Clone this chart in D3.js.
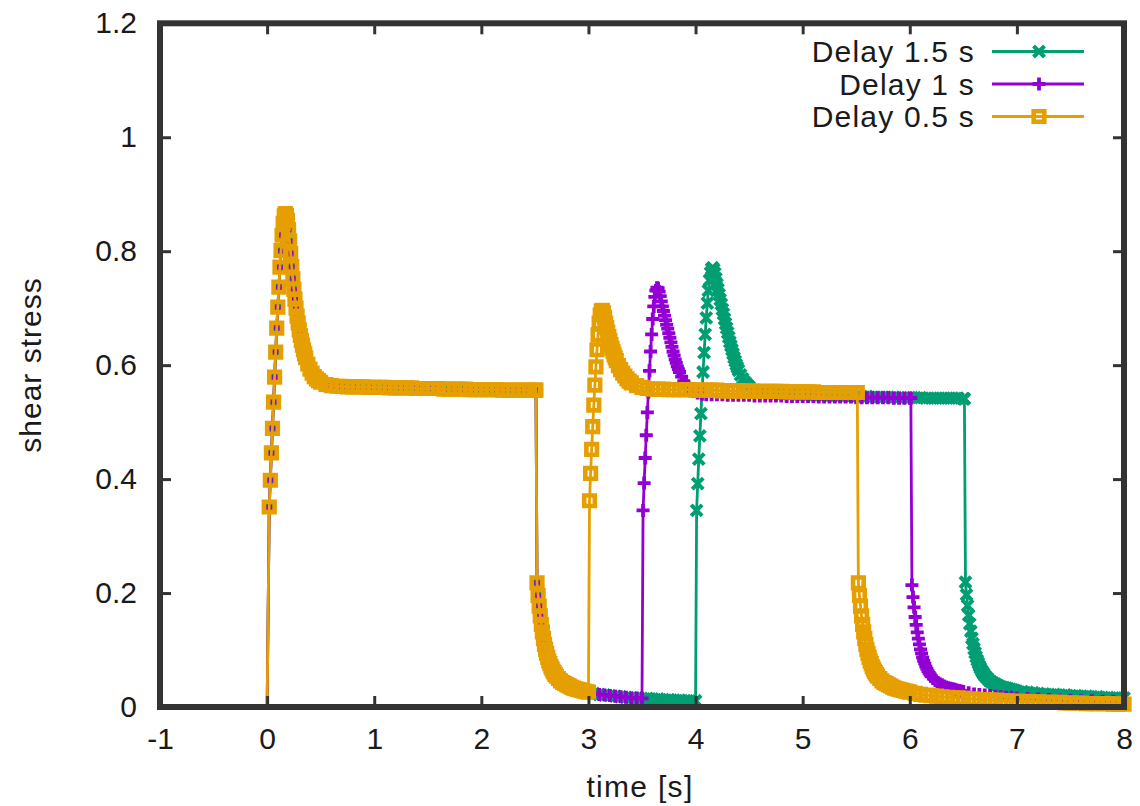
<!DOCTYPE html>
<html>
<head>
<meta charset="utf-8">
<script src="https://cdn.jsdelivr.net/npm/d3@7/dist/d3.min.js"></script>
<style>
  html, body { margin: 0; padding: 0; background: #ffffff; }
  svg text { font-family: "Liberation Sans", Arial, sans-serif; fill: #1a1a1a; }
</style>
</head>
<body>
<svg id="chart" width="1140" height="806"></svg>
<script>
// Axis ticks
const xTicks = [-1, 0, 1, 2, 3, 4, 5, 6, 7, 8];
const yTicks = [0, 0.2, 0.4, 0.6, 0.8, 1, 1.2];

// Series labels and colours (legend order)
const seriesNames = ["Delay 1.5 s", "Delay 1 s", "Delay 0.5 s"];
const seriesColors = ["#009e73", "#9400d3", "#e69f00"];
const seriesMarkers = ["cross", "plus", "square"];

// First loading cycle, common to all runs: [time s, shear stress]
const firstCycle = [
  [0.00, 0.000], [0.02, 0.351], [0.03, 0.398], [0.04, 0.446], [0.05, 0.489],
  [0.06, 0.535], [0.07, 0.579], [0.08, 0.623], [0.09, 0.665], [0.10, 0.702],
  [0.11, 0.737], [0.12, 0.772], [0.13, 0.801], [0.14, 0.828], [0.15, 0.849],
  [0.16, 0.862], [0.17, 0.866], [0.18, 0.863], [0.19, 0.854], [0.20, 0.838],
  [0.21, 0.818], [0.22, 0.796], [0.23, 0.773], [0.24, 0.752], [0.25, 0.733],
  [0.26, 0.716], [0.27, 0.700], [0.28, 0.686], [0.29, 0.674], [0.30, 0.662],
  [0.31, 0.652], [0.32, 0.643], [0.33, 0.635], [0.34, 0.627], [0.35, 0.620],
  [0.36, 0.613], [0.38, 0.602], [0.40, 0.593], [0.42, 0.586], [0.44, 0.580],
  [0.46, 0.576], [0.48, 0.573], [0.50, 0.570], [0.55, 0.566], [0.60, 0.564],
  [0.65, 0.563], [0.70, 0.563], [0.75, 0.562], [0.80, 0.562], [0.85, 0.562],
  [0.90, 0.562], [0.95, 0.561], [1.00, 0.561], [1.05, 0.561], [1.10, 0.561],
  [1.15, 0.560], [1.20, 0.560], [1.25, 0.560], [1.30, 0.560], [1.35, 0.560],
  [1.40, 0.559], [1.45, 0.559], [1.50, 0.559], [1.55, 0.559], [1.60, 0.559],
  [1.65, 0.558], [1.70, 0.558], [1.75, 0.558], [1.80, 0.558], [1.85, 0.558],
  [1.90, 0.557], [1.95, 0.557], [2.00, 0.557], [2.05, 0.557], [2.10, 0.557],
  [2.15, 0.557], [2.20, 0.556], [2.25, 0.556], [2.30, 0.556], [2.35, 0.556],
  [2.40, 0.556], [2.45, 0.556], [2.50, 0.556], [2.51, 0.556],
  [2.52, 0.218], [2.53, 0.196], [2.54, 0.177], [2.55, 0.160], [2.56, 0.145],
  [2.57, 0.132], [2.58, 0.120], [2.59, 0.110], [2.60, 0.101], [2.61, 0.094],
  [2.62, 0.087], [2.63, 0.081], [2.64, 0.076], [2.65, 0.071], [2.66, 0.067],
  [2.67, 0.063], [2.68, 0.060], [2.69, 0.057], [2.70, 0.054], [2.72, 0.050],
  [2.74, 0.046], [2.76, 0.043], [2.78, 0.041], [2.80, 0.039], [2.82, 0.037],
  [2.84, 0.035], [2.86, 0.033], [2.88, 0.032], [2.90, 0.031], [2.92, 0.030],
  [2.94, 0.029], [2.96, 0.028], [2.98, 0.027], [3.00, 0.026]
];

// Delay 1.5 s: rest until t = 4 s, second cycle, unloading at 6.5 s
const delay15Rest = [
  [3.05, 0.024], [3.10, 0.022], [3.15, 0.021], [3.20, 0.020], [3.25, 0.019],
  [3.30, 0.018], [3.35, 0.017], [3.40, 0.016], [3.45, 0.016], [3.50, 0.015],
  [3.55, 0.015], [3.60, 0.014], [3.65, 0.014], [3.70, 0.013], [3.75, 0.013],
  [3.80, 0.012], [3.85, 0.012], [3.90, 0.011], [3.95, 0.011], [4.00, 0.011],
  [4.01, 0.345], [4.02, 0.392], [4.03, 0.435], [4.04, 0.476], [4.05, 0.515],
  [4.06, 0.552], [4.07, 0.588], [4.08, 0.622], [4.09, 0.654], [4.10, 0.683],
  [4.11, 0.709], [4.12, 0.731], [4.13, 0.749], [4.14, 0.762], [4.15, 0.769],
  [4.16, 0.771], [4.17, 0.768], [4.18, 0.761], [4.19, 0.752], [4.20, 0.742],
  [4.21, 0.733], [4.22, 0.724], [4.23, 0.715], [4.24, 0.707], [4.25, 0.698],
  [4.26, 0.690], [4.27, 0.681], [4.28, 0.673], [4.29, 0.665], [4.30, 0.657],
  [4.31, 0.649], [4.32, 0.641], [4.33, 0.634], [4.34, 0.627], [4.35, 0.620],
  [4.36, 0.613], [4.37, 0.607], [4.38, 0.601], [4.39, 0.596], [4.40, 0.591],
  [4.42, 0.583], [4.44, 0.576], [4.46, 0.570], [4.48, 0.566], [4.50, 0.562],
  [4.55, 0.556], [4.60, 0.553], [4.65, 0.551], [4.70, 0.550], [4.75, 0.550],
  [4.80, 0.549], [4.85, 0.549], [4.90, 0.549], [4.95, 0.548], [5.00, 0.548],
  [5.05, 0.548], [5.10, 0.547], [5.15, 0.547], [5.20, 0.547], [5.25, 0.546],
  [5.30, 0.546], [5.35, 0.546], [5.40, 0.546], [5.45, 0.545], [5.50, 0.545],
  [5.55, 0.545], [5.60, 0.545], [5.65, 0.544], [5.70, 0.544], [5.75, 0.544],
  [5.80, 0.544], [5.85, 0.544], [5.90, 0.543], [5.95, 0.543], [6.00, 0.543],
  [6.05, 0.543], [6.10, 0.543], [6.15, 0.542], [6.20, 0.542], [6.25, 0.542],
  [6.30, 0.542], [6.35, 0.542], [6.40, 0.542], [6.45, 0.542], [6.50, 0.541],
  [6.51, 0.541],
  [6.52, 0.219], [6.53, 0.197], [6.54, 0.178], [6.55, 0.161], [6.56, 0.146],
  [6.57, 0.133], [6.58, 0.121], [6.59, 0.111], [6.60, 0.102], [6.61, 0.095],
  [6.62, 0.088], [6.63, 0.082], [6.64, 0.077], [6.65, 0.072], [6.66, 0.068],
  [6.67, 0.064], [6.68, 0.061], [6.69, 0.058], [6.70, 0.055], [6.72, 0.051],
  [6.74, 0.047], [6.76, 0.044], [6.78, 0.042], [6.80, 0.040], [6.82, 0.038],
  [6.84, 0.036], [6.86, 0.035], [6.88, 0.034], [6.90, 0.033], [6.92, 0.032],
  [6.94, 0.031], [6.96, 0.030], [6.98, 0.029], [7.00, 0.028], [7.05, 0.027],
  [7.10, 0.026], [7.15, 0.025], [7.20, 0.024], [7.25, 0.023], [7.30, 0.022],
  [7.35, 0.022], [7.40, 0.021], [7.45, 0.021], [7.50, 0.020], [7.55, 0.020],
  [7.60, 0.019], [7.65, 0.019], [7.70, 0.018], [7.75, 0.018], [7.80, 0.017],
  [7.85, 0.017], [7.90, 0.016], [7.95, 0.016], [8.00, 0.016]
];

// Delay 1 s: rest until t = 3.5 s, second cycle, unloading at 6 s
const delay1Rest = [
  [3.05, 0.024], [3.10, 0.022], [3.15, 0.021], [3.20, 0.020], [3.25, 0.019],
  [3.30, 0.018], [3.35, 0.017], [3.40, 0.016], [3.45, 0.016], [3.50, 0.015],
  [3.51, 0.345], [3.52, 0.393], [3.53, 0.437], [3.54, 0.477], [3.55, 0.517],
  [3.56, 0.553], [3.57, 0.590], [3.58, 0.624], [3.59, 0.654], [3.60, 0.681],
  [3.61, 0.703], [3.62, 0.720], [3.63, 0.731], [3.64, 0.736], [3.65, 0.735],
  [3.66, 0.729], [3.67, 0.721], [3.68, 0.712], [3.69, 0.703], [3.70, 0.695],
  [3.71, 0.687], [3.72, 0.679], [3.73, 0.671], [3.74, 0.664], [3.75, 0.656],
  [3.76, 0.648], [3.77, 0.640], [3.78, 0.632], [3.79, 0.624], [3.80, 0.617],
  [3.81, 0.610], [3.82, 0.604], [3.83, 0.598], [3.84, 0.593], [3.85, 0.588],
  [3.87, 0.580], [3.89, 0.572], [3.91, 0.566], [3.94, 0.560], [3.98, 0.554],
  [4.02, 0.551], [4.06, 0.549], [4.10, 0.548], [4.15, 0.548], [4.20, 0.548],
  [4.25, 0.548], [4.30, 0.547], [4.35, 0.547], [4.40, 0.547], [4.45, 0.547],
  [4.50, 0.547], [4.55, 0.546], [4.60, 0.546], [4.65, 0.546], [4.70, 0.546],
  [4.75, 0.546], [4.80, 0.546], [4.85, 0.545], [4.90, 0.545], [4.95, 0.545],
  [5.00, 0.545], [5.05, 0.545], [5.10, 0.545], [5.15, 0.544], [5.20, 0.544],
  [5.25, 0.544], [5.30, 0.544], [5.35, 0.544], [5.40, 0.544], [5.45, 0.544],
  [5.50, 0.543], [5.55, 0.543], [5.60, 0.543], [5.65, 0.543], [5.70, 0.543],
  [5.75, 0.543], [5.80, 0.543], [5.85, 0.542], [5.90, 0.542], [5.95, 0.542],
  [6.00, 0.542], [6.01, 0.542],
  [6.02, 0.214], [6.03, 0.193], [6.04, 0.175], [6.05, 0.158], [6.06, 0.144],
  [6.07, 0.131], [6.08, 0.120], [6.09, 0.110], [6.10, 0.101], [6.11, 0.094],
  [6.12, 0.087], [6.13, 0.081], [6.14, 0.076], [6.15, 0.071], [6.16, 0.067],
  [6.17, 0.063], [6.18, 0.060], [6.19, 0.057], [6.20, 0.054], [6.22, 0.050],
  [6.24, 0.046], [6.26, 0.043], [6.28, 0.041], [6.30, 0.039], [6.32, 0.037],
  [6.34, 0.035], [6.36, 0.034], [6.38, 0.033], [6.40, 0.032], [6.42, 0.031],
  [6.44, 0.030], [6.46, 0.029], [6.48, 0.028], [6.50, 0.027], [6.55, 0.025],
  [6.60, 0.023], [6.65, 0.022], [6.70, 0.021], [6.75, 0.020], [6.80, 0.019],
  [6.85, 0.018], [6.90, 0.017], [6.95, 0.017], [7.00, 0.016], [7.10, 0.015],
  [7.20, 0.014], [7.30, 0.013], [7.40, 0.012], [7.50, 0.012], [7.60, 0.011],
  [7.70, 0.011], [7.80, 0.010], [7.90, 0.010], [8.00, 0.010]
];

// Delay 0.5 s: reloaded at t = 3 s, unloading at 5.5 s
const delay05Rest = [
  [3.01, 0.362], [3.02, 0.410], [3.03, 0.452], [3.04, 0.492], [3.05, 0.530],
  [3.06, 0.565], [3.07, 0.597], [3.08, 0.627], [3.09, 0.653], [3.10, 0.674],
  [3.11, 0.688], [3.12, 0.695], [3.13, 0.696], [3.14, 0.692], [3.15, 0.684],
  [3.16, 0.674], [3.17, 0.666], [3.18, 0.658], [3.19, 0.650], [3.20, 0.643],
  [3.21, 0.636], [3.22, 0.630], [3.23, 0.624], [3.24, 0.618], [3.25, 0.613],
  [3.26, 0.608], [3.28, 0.599], [3.30, 0.592], [3.32, 0.586], [3.34, 0.581],
  [3.36, 0.576], [3.38, 0.572], [3.40, 0.569], [3.45, 0.564], [3.50, 0.561],
  [3.55, 0.559], [3.60, 0.558], [3.65, 0.558], [3.70, 0.558], [3.75, 0.557],
  [3.80, 0.557], [3.85, 0.557], [3.90, 0.557], [3.95, 0.557], [4.00, 0.556],
  [4.05, 0.556], [4.10, 0.556], [4.15, 0.556], [4.20, 0.556], [4.25, 0.555],
  [4.30, 0.555], [4.35, 0.555], [4.40, 0.555], [4.45, 0.555], [4.50, 0.555],
  [4.55, 0.554], [4.60, 0.554], [4.65, 0.554], [4.70, 0.554], [4.75, 0.554],
  [4.80, 0.554], [4.85, 0.553], [4.90, 0.553], [4.95, 0.553], [5.00, 0.553],
  [5.05, 0.553], [5.10, 0.553], [5.15, 0.552], [5.20, 0.552], [5.25, 0.552],
  [5.30, 0.552], [5.35, 0.552], [5.40, 0.552], [5.45, 0.552], [5.50, 0.552],
  [5.51, 0.552],
  [5.52, 0.218], [5.53, 0.196], [5.54, 0.177], [5.55, 0.160], [5.56, 0.145],
  [5.57, 0.132], [5.58, 0.120], [5.59, 0.110], [5.60, 0.101], [5.61, 0.094],
  [5.62, 0.087], [5.63, 0.081], [5.64, 0.076], [5.65, 0.071], [5.66, 0.067],
  [5.67, 0.063], [5.68, 0.060], [5.69, 0.057], [5.70, 0.054], [5.72, 0.050],
  [5.74, 0.046], [5.76, 0.043], [5.78, 0.041], [5.80, 0.039], [5.82, 0.037],
  [5.84, 0.035], [5.86, 0.033], [5.88, 0.032], [5.90, 0.031], [5.92, 0.030],
  [5.94, 0.029], [5.96, 0.028], [5.98, 0.027], [6.00, 0.026], [6.05, 0.024],
  [6.10, 0.022], [6.15, 0.021], [6.20, 0.020], [6.25, 0.019], [6.30, 0.018],
  [6.35, 0.017], [6.40, 0.016], [6.45, 0.016], [6.50, 0.015], [6.55, 0.014],
  [6.60, 0.014], [6.65, 0.013], [6.70, 0.013], [6.75, 0.012], [6.80, 0.012],
  [6.85, 0.011], [6.90, 0.011], [6.95, 0.010], [7.00, 0.010], [7.05, 0.010],
  [7.10, 0.009], [7.15, 0.009], [7.20, 0.009], [7.25, 0.008], [7.30, 0.008],
  [7.35, 0.008], [7.40, 0.008], [7.45, 0.007], [7.50, 0.007], [7.55, 0.007],
  [7.60, 0.007], [7.65, 0.006], [7.70, 0.006], [7.75, 0.006], [7.80, 0.006],
  [7.85, 0.006], [7.90, 0.005], [7.95, 0.005], [8.00, 0.005]
];

const seriesData = [
  firstCycle.concat(delay15Rest),
  firstCycle.concat(delay1Rest),
  firstCycle.concat(delay05Rest)
];

const svg = d3.select("#chart");
const FONT = 30;
const INK = "#1a1a1a";
const FRAME = "#333333";

const x = d3.scaleLinear().domain([-1, 8]).range([160, 1124]);
const y = d3.scaleLinear().domain([0, 1.2]).range([707, 23.3]);

// Point symbols in gnuplot style
const markerPath = {
  cross:  "M-5.5,-5.5L5.5,5.5M-5.5,5.5L5.5,-5.5",
  plus:   "M-6.5,0H6.5M0,-6.5V6.5",
  square: "M-5.3,-5.3H5.3V5.3H-5.3Z"
};
const markerWidth = { cross: 4, plus: 3.8, square: 4.6 };

const line = d3.line().x(d => x(d[0])).y(d => y(d[1]));

// Curves: line first, then the points, one series after the other.
// The resting start point at zero stress sits on the axis and carries no symbol.
const plot = svg.append("g");
seriesData.forEach((data, i) => {
  const g = plot.append("g");
  g.append("path")
    .datum(data)
    .attr("d", line)
    .attr("fill", "none")
    .attr("stroke", seriesColors[i])
    .attr("stroke-width", 2.8)
    .attr("stroke-linejoin", "round");
  g.selectAll("path.pt")
    .data(data.filter(d => d[1] > 0))
    .join("path")
    .attr("class", "pt")
    .attr("d", markerPath[seriesMarkers[i]])
    .attr("transform", d => `translate(${x(d[0])},${y(d[1])})`)
    .attr("fill", "none")
    .attr("stroke", seriesColors[i])
    .attr("stroke-width", markerWidth[seriesMarkers[i]]);
});

// Axes with inward ticks mirrored on all four sides
function styleAxis(g) {
  g.select(".domain").remove();
  g.selectAll(".tick line").attr("stroke", FRAME).attr("stroke-width", 3);
  g.selectAll(".tick text")
    .attr("font-size", FONT)
    .attr("font-family", "Liberation Sans, Arial, sans-serif")
    .attr("fill", INK);
}

svg.append("g")
  .attr("transform", `translate(0,${y(0)})`)
  .call(d3.axisBottom(x).tickValues(xTicks).tickFormat(d => String(d))
    .tickSize(-11).tickPadding(21))
  .call(styleAxis);

svg.append("g")
  .attr("transform", `translate(0,${y(1.2)})`)
  .call(d3.axisTop(x).tickValues(xTicks).tickFormat("").tickSize(-11))
  .call(styleAxis);

svg.append("g")
  .attr("transform", `translate(${x(-1)},0)`)
  .call(d3.axisLeft(y).tickValues(yTicks).tickFormat(d => String(d))
    .tickSize(-11).tickPadding(23))
  .call(styleAxis);

svg.append("g")
  .attr("transform", `translate(${x(8)},0)`)
  .call(d3.axisRight(y).tickValues(yTicks).tickFormat("").tickSize(-11))
  .call(styleAxis);

// Plot frame
svg.append("rect")
  .attr("x", x(-1)).attr("y", y(1.2))
  .attr("width", x(8) - x(-1)).attr("height", y(0) - y(1.2))
  .attr("fill", "none")
  .attr("stroke", FRAME)
  .attr("stroke-width", 6);

// Axis titles
svg.append("text")
  .attr("x", 640).attr("y", 797)
  .attr("text-anchor", "middle")
  .attr("font-size", FONT)
  .attr("letter-spacing", 1.3)
  .text("time [s]");

svg.append("text")
  .attr("transform", "translate(41,365) rotate(-90)")
  .attr("text-anchor", "middle")
  .attr("font-size", FONT)
  .attr("letter-spacing", 1)
  .text("shear stress");

// Legend
const legend = svg.append("g");
seriesNames.forEach((name, i) => {
  const ry = 51.5 + i * 32.5;
  legend.append("text")
    .attr("x", 975).attr("y", ry).attr("dy", "0.35em")
    .attr("text-anchor", "end")
    .attr("font-size", FONT)
    .attr("letter-spacing", 1.2)
    .text(name);
  legend.append("line")
    .attr("x1", 992).attr("x2", 1084).attr("y1", ry).attr("y2", ry)
    .attr("stroke", seriesColors[i]).attr("stroke-width", 2.8);
  legend.append("path")
    .attr("d", markerPath[seriesMarkers[i]])
    .attr("transform", `translate(1039,${ry})`)
    .attr("fill", "none")
    .attr("stroke", seriesColors[i])
    .attr("stroke-width", markerWidth[seriesMarkers[i]]);
});
</script>
</body>
</html>
